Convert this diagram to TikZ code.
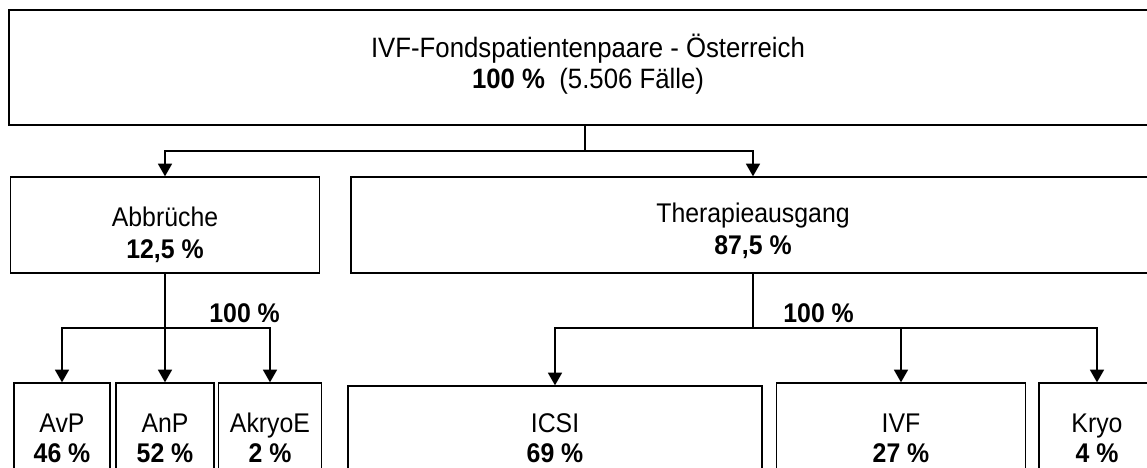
\documentclass[tikz,border=0pt]{standalone}
\usepackage{fontspec}
\setmainfont[FakeStretch=0.92]{Liberation Sans}
\usetikzlibrary{arrows.meta,calc}

\tikzset{
  kasten/.style={draw, line width=0.7pt, inner sep=0pt, align=center,
    font=\fontsize{13.5}{15}\selectfont},
  txt/.style={inner sep=0pt, align=center, font=\fontsize{13.5}{15.75}\selectfont},
  linie/.style={line width=0.7pt},
  pfeil/.style={line width=0.7pt, -{Triangle[length=6.3pt,width=7pt]}},
}

\begin{document}
\begin{tikzpicture}[x=0.5pt,y=-0.5pt]
    \clip (0,0) rectangle (1147,467);
    \fill[white] (0,0) rectangle (1147,467);
    % Ebene 1
    \node[kasten, minimum width=578pt, minimum height=57.5pt] (oben) at (587,67.5) {};
    \node[txt, font=\fontsize{14}{15.5}\selectfont] (oben-t) at (588,64)
        {IVF-Fondspatientenpaare - Österreich\\\textbf{100 \%}\ \ (5.506 Fälle)};
    % Ebene 2
    \node[kasten, minimum width=154.5pt, minimum height=48pt] (abb) at (165,225) {};
    \node[txt] (abb-t) at (165,235) {Abbrüche\\\textbf{12,5 \%}};
    \node[kasten, minimum width=402pt, minimum height=48pt] (ther) at (753,225) {};
    \node[txt] (ther-t) at (753,231) {Therapieausgang\\\textbf{87,5 \%}};
    % Ebene 3
    \node[kasten, minimum width=48pt, minimum height=55pt] (avp) at (62,438) {AvP\\\textbf{46 \%}};
    \node[kasten, minimum width=49pt, minimum height=55pt] (anp) at (165,438) {AnP\\\textbf{52 \%}};
    \node[kasten, minimum width=51.5pt, minimum height=55pt] (akryo) at (270,438) {AkryoE\\\textbf{2 \%}};
    \node[kasten, minimum width=207pt, minimum height=52pt] (icsi) at (555,438) {ICSI\\\textbf{69 \%}};
    \node[kasten, minimum width=124.5pt, minimum height=55pt] (ivf) at (901,438) {IVF\\\textbf{27 \%}};
    \node[kasten, minimum width=58pt, minimum height=55pt] (kryo) at (1097,438) {Kryo\\\textbf{4 \%}};
    % Verzweigungen
    \coordinate (v1) at (585,151);
    \coordinate (v2) at (165,328);
    \coordinate (v3) at (753,328);
    \draw[linie] (v1 |- oben.south) -- (v1);
    \draw[pfeil] (v1) -| (abb.north);
    \draw[pfeil] (v1) -| (ther.north);
    \draw[linie] (abb.south) -- (v2);
    \draw[pfeil] (v2) -| (avp.north);
    \draw[pfeil] (v2) -- (anp.north);
    \draw[pfeil] (v2) -| (akryo.north);
    \draw[linie] (ther.south) -- (v3);
    \draw[pfeil] (v3) -| (icsi.north);
    \draw[pfeil] (v3) -| (ivf.north);
    \draw[pfeil] (v3) -| (kryo.north);
    \node[txt, anchor=base west] (p1) at (209,322) {\textbf{100 \%}};
    \node[txt, anchor=base west] (p2) at (783,322) {\textbf{100 \%}};
\end{tikzpicture}
\end{document}
